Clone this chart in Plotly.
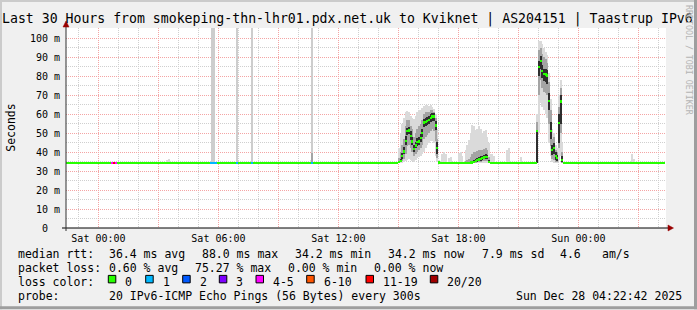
import pandas as pd
import plotly.graph_objects as go

# ---------------- data ----------------
BASELINE_MS = 34.2                      # median rtt when nothing happens
GRAPH_START = "2025-12-26 22:22:42"
GRAPH_END = "2025-12-28 04:22:42"
FIRST_STEP = "2025-12-26 22:25"
LAST_STEP = "2025-12-28 04:20"

# Event 1: Saturday afternoon (5-minute steps starting at ev1_start)
ev1_start = "2025-12-27 15:05"
ev1_median = [34.8, 35.2, 37.8, 40.4, 46.0, 51.0, 51.5, 48.5, 45.7, 41.8,
              43.5, 45.4, 45.7, 47.5, 50.1, 55.7, 56.0, 56.6, 57.1, 58.0,
              58.8, 58.8, 54.1, 42.2, 34.6]
ev1_lo = [34.2, 34.3, 34.5, 35.0, 35.5, 36.0, 36.5, 36.0, 35.5, 35.0,
          36.0, 37.0, 37.5, 38.0, 39.0, 40.0, 42.0, 44.0, 45.0, 46.0,
          46.0, 45.0, 38.0, 35.0, 34.2]
ev1_hi = [42.0, 50.0, 55.0, 58.0, 61.0, 61.5, 61.0, 59.0, 58.0, 57.5,
          59.0, 61.0, 62.0, 62.5, 63.5, 64.5, 65.0, 65.0, 64.5, 65.0,
          64.0, 63.0, 60.0, 52.0, 36.0]
ev1_mid_lo = [34.3, 34.6, 35.5, 36.5, 39.0, 43.0, 44.0, 42.0, 40.0, 38.0,
              39.0, 40.0, 41.0, 42.0, 44.0, 47.0, 48.0, 49.0, 50.0, 51.0,
              52.0, 51.0, 46.0, 37.0, 34.3]
ev1_mid_hi = [37.0, 40.0, 44.0, 47.0, 54.0, 57.0, 57.0, 54.0, 52.0, 48.0,
              50.0, 52.0, 54.0, 55.0, 57.0, 60.0, 61.0, 61.0, 61.0, 62.0,
              62.0, 61.0, 58.0, 47.0, 35.0]
ev1_core_lo = [34.5, 34.8, 36.5, 39.0, 44.0, 49.0, 49.5, 46.5, 44.0, 40.0,
               42.0, 43.5, 44.0, 45.5, 48.0, 53.5, 54.0, 54.5, 55.0, 56.0,
               56.5, 56.5, 51.5, 39.0, 34.3]
ev1_core_hi = [35.5, 36.5, 39.5, 42.5, 48.5, 53.0, 53.5, 51.0, 48.0, 44.0,
               45.5, 47.5, 48.0, 49.5, 52.0, 57.5, 58.0, 58.5, 59.0, 60.0,
               60.5, 60.5, 56.5, 45.5, 35.0]

# Event 1b: small bump Saturday evening
ev1b_start = "2025-12-27 18:25"
ev1b_median = [34.3, 34.3, 34.4, 34.5, 34.6, 35.0, 35.3, 35.7, 36.2, 36.5,
               36.9, 37.2, 37.6, 37.5, 35.0, 34.3]
ev1b_lo = [34.2, 34.2, 34.2, 34.2, 34.2, 34.2, 34.2, 34.2, 34.2, 34.2,
           34.2, 34.2, 34.2, 34.2, 34.2, 34.2]
ev1b_hi = [41.0, 44.0, 46.6, 50.0, 54.5, 54.0, 51.8, 52.0, 53.6, 52.0,
           50.0, 51.0, 51.8, 48.0, 45.0, 39.0]
ev1b_mid_lo = [34.2, 34.2, 34.2, 34.3, 34.3, 34.4, 34.5, 34.6, 34.8, 35.0,
               35.2, 35.4, 35.5, 35.5, 34.5, 34.2]
ev1b_mid_hi = [35.5, 36.0, 36.5, 37.5, 39.0, 40.0, 40.0, 40.5, 41.0, 41.0,
               41.0, 41.5, 42.0, 41.0, 37.5, 34.8]
ev1b_core_lo = [34.2, 34.2, 34.2, 34.3, 34.3, 34.5, 34.8, 35.0, 35.4, 35.6,
                36.0, 36.2, 36.6, 36.5, 34.6, 34.2]
ev1b_core_hi = [34.6, 34.7, 34.9, 35.1, 35.4, 36.0, 36.4, 36.9, 37.4, 37.8,
                38.2, 38.6, 39.0, 38.6, 35.8, 34.5]

# Event 2: late Saturday evening
ev2_start = "2025-12-27 22:00"
ev2_median = [51.0, 84.8, 88.0, 83.0, 81.3, 81.0, 80.4, 67.1, 51.0, 41.3,
              42.2, 38.0, 36.9, 55.4, 66.7, 36.0, 34.3]
ev2_lo = [34.3, 50.0, 66.0, 64.0, 62.0, 60.0, 58.0, 45.0, 38.0, 35.0,
          34.5, 34.5, 34.3, 36.0, 38.0, 34.3, 34.2]
ev2_hi = [60.0, 98.5, 98.5, 97.0, 95.0, 93.0, 91.0, 82.0, 68.0, 52.0,
          50.0, 44.0, 42.0, 70.0, 78.0, 45.0, 34.6]
ev2_mid_lo = [34.5, 70.0, 78.0, 74.0, 72.0, 71.0, 70.0, 55.0, 43.0, 36.5,
              36.0, 35.0, 34.8, 42.0, 50.0, 34.5, 34.2]
ev2_mid_hi = [56.0, 94.0, 95.0, 92.0, 90.0, 89.0, 87.0, 77.0, 62.0, 47.0,
              48.0, 41.0, 40.0, 64.0, 74.0, 40.0, 34.5]
ev2_core_lo = [34.5, 80.0, 84.0, 79.0, 77.5, 77.0, 76.0, 62.0, 47.0, 38.5,
               39.0, 36.0, 35.5, 45.0, 55.0, 35.0, 34.2]
ev2_core_hi = [51.5, 88.0, 90.5, 86.0, 84.0, 84.0, 83.5, 71.0, 56.0, 44.0,
               45.0, 40.0, 38.5, 60.0, 70.0, 38.0, 34.4]

# isolated small smoke bumps (top of smoke, ms)
bump_times = ["2025-12-27 03:30", "2025-12-27 03:35", "2025-12-27 10:40",
              "2025-12-27 17:15", "2025-12-27 17:20", "2025-12-27 17:25",
              "2025-12-27 17:35", "2025-12-27 17:40", "2025-12-27 18:05",
              "2025-12-27 18:10", "2025-12-27 18:15", "2025-12-27 19:45",
              "2025-12-27 19:50", "2025-12-27 20:30", "2025-12-27 20:35",
              "2025-12-27 21:10", "2025-12-28 02:45", "2025-12-28 02:50"]
bump_hi = [35.7, 36.6, 35.9, 39.0, 40.0, 39.0, 37.0, 37.5, 39.6, 40.0,
           38.0, 39.0, 38.0, 41.0, 42.0, 37.3, 39.2, 36.5]

# single very slow pings (smoke runs off the top of the chart)
spike_times = ["2025-12-27 05:45", "2025-12-27 05:50", "2025-12-27 07:00",
               "2025-12-27 07:45", "2025-12-27 10:45"]
spike_hi = [160.0, 160.0, 160.0, 160.0, 160.0]
spike_mid_hi = [35.0, 35.0, 35.0, 35.0, 39.7]

# packet loss per step (other steps: 0 lost)
loss_times = ["2025-12-27 00:45", "2025-12-27 00:50", "2025-12-27 00:55",
              "2025-12-27 05:40", "2025-12-27 05:45", "2025-12-27 05:50",
              "2025-12-27 05:55", "2025-12-27 07:00", "2025-12-27 07:45",
              "2025-12-27 10:45"]
loss_cat = ["4-5", "11-19", "4-5", "1", "1", "1", "1", "1", "1", "1"]

loss_labels = ["0", "1", "2", "3", "4-5", "6-10", "11-19", "20/20"]
loss_colors = ["#26ff00", "#00b8ff", "#0059ff", "#7e00ff", "#ff00ff",
               "#ff5500", "#ff0000", "#a00000"]

x_tick_vals = ["2025-12-27 00:00", "2025-12-27 03:00", "2025-12-27 06:00",
               "2025-12-27 09:00", "2025-12-27 12:00", "2025-12-27 15:00",
               "2025-12-27 18:00", "2025-12-27 21:00", "2025-12-28 00:00",
               "2025-12-28 03:00"]
x_tick_text = ["Sat 00:00", "", "Sat 06:00", "", "Sat 12:00", "",
               "Sat 18:00", "", "Sun 00:00", ""]
y_tick_vals = [0, 10, 20, 30, 40, 50, 60, 70, 80, 90, 100]
y_tick_text = ["0\u00a0\u00a0", "10 m", "20 m", "30 m", "40 m", "50 m",
               "60 m", "70 m", "80 m", "90 m", "100 m"]
Y_MAX = 105.5

title_text = ("Last 30 Hours from smokeping-thn-lhr01.pdx.net.uk to Kviknet"
              " | AS204151 | Taastrup IPv6")
stats_rtt = ["median rtt:", "36.4 ms avg", "88.0 ms max", "34.2 ms min",
             "34.2 ms now", "7.9 ms sd", "4.6", "am/s"]
stats_loss = ["packet loss:", "0.60 % avg", "75.27 % max", "0.00 % min",
              "0.00 % now"]
probe_text = ["probe:", "20 IPv6-ICMP Echo Pings (56 Bytes) every 300s",
              "Sun Dec 28 04:22:42 2025"]

# ---------------- build per-step series ----------------
STEP = pd.Timedelta(minutes=5)
steps = pd.date_range(FIRST_STEP, LAST_STEP, freq="5min")
median = {t: BASELINE_MS for t in steps}
loss = {t: "0" for t in steps}
outer, mid, core, tall = [], [], [], []

for start, med, lo, hi, mlo, mhi, clo, chi in [
        (ev1_start, ev1_median, ev1_lo, ev1_hi, ev1_mid_lo, ev1_mid_hi, ev1_core_lo, ev1_core_hi),
        (ev1b_start, ev1b_median, ev1b_lo, ev1b_hi, ev1b_mid_lo, ev1b_mid_hi, ev1b_core_lo, ev1b_core_hi),
        (ev2_start, ev2_median, ev2_lo, ev2_hi, ev2_mid_lo, ev2_mid_hi, ev2_core_lo, ev2_core_hi)]:
    t0 = pd.Timestamp(start)
    for i in range(len(med)):
        t = t0 + i * STEP
        median[t] = med[i]
        outer.append((t, lo[i], hi[i]))
        mid.append((t, mlo[i], mhi[i]))
        core.append((t, clo[i], chi[i]))

for t, h in zip(bump_times, bump_hi):
    outer.append((pd.Timestamp(t), BASELINE_MS, h))
for t, h, m in zip(spike_times, spike_hi, spike_mid_hi):
    tall.append((pd.Timestamp(t), BASELINE_MS, h))
    mid.append((pd.Timestamp(t), BASELINE_MS, m))
for t, c in zip(loss_times, loss_cat):
    loss[pd.Timestamp(t)] = c

STEP_MS = 300000
fig = go.Figure()


def band(rows, color):
    fig.add_trace(go.Bar(
        x=[r[0] for r in rows], base=[r[1] for r in rows],
        y=[r[2] - r[1] for r in rows], width=STEP_MS, offset=-STEP_MS,
        marker=dict(color=color, line=dict(width=0)), hoverinfo="skip"))


band(tall, "#cdcdcd")
band(outer, "#dadada")
band(mid, "#a4a4a4")
band(core, "#2e2e2e")

SW = 0.6  # half thickness of the median mark (ms)
for lab, col in zip(loss_labels, loss_colors):
    ts = [t for t in steps if loss[t] == lab]
    if not ts:
        continue
    fig.add_trace(go.Bar(
        x=ts, base=[median[t] - SW for t in ts], y=[2 * SW] * len(ts),
        width=STEP_MS, offset=-STEP_MS,
        marker=dict(color=col, line=dict(width=0)), hoverinfo="skip"))

# ---------------- layout ----------------
W, H = 697, 310
PL, PR, PT, PB = 66, 666, 28, 228.5
FONT = "DejaVu Sans Mono"
MAJOR = "#f4a4a4"
MINOR = "#cfcfcf"


def fx(x):
    return (x - PL) / (PR - PL)


def fy(y):
    return (PB - y) / (PB - PT)


fig.update_layout(
    width=W, height=H,
    margin=dict(l=PL, r=W - PR, t=PT, b=H - PB, pad=0, autoexpand=False),
    paper_bgcolor="#f0f0f0", plot_bgcolor="#ffffff",
    barmode="overlay", bargap=0, showlegend=False,
    font=dict(family=FONT, size=10, color="#000000"),
)
fig.update_xaxes(
    type="date", range=[GRAPH_START, GRAPH_END], fixedrange=True,
    tickmode="array", tickvals=x_tick_vals, ticktext=x_tick_text,
    showgrid=True, gridcolor=MAJOR, griddash="1px,1px", gridwidth=1,
    minor=dict(dtick=3600000, tick0="2025-12-27 00:00", showgrid=True,
               gridcolor=MINOR, griddash="1px,1px", gridwidth=1),
    zeroline=False, showline=False, ticks="", ticklabelstandoff=3,
    tickfont=dict(family=FONT, size=10, color="#000000"), automargin=False,
)
fig.update_yaxes(
    range=[0, Y_MAX], fixedrange=True,
    tickmode="array", tickvals=y_tick_vals, ticktext=y_tick_text,
    showgrid=True, gridcolor=MAJOR, griddash="1px,1px", gridwidth=1,
    minor=dict(dtick=5, tick0=0, showgrid=True, gridcolor=MINOR,
               griddash="1px,1px", gridwidth=1),
    zeroline=False, showline=False, ticks="", ticklabelstandoff=5,
    tickfont=dict(family=FONT, size=10, color="#000000"), automargin=False,
)

shapes = []
# frame shading
shapes.append(dict(type="rect", xref="paper", yref="paper", x0=fx(0), x1=fx(W),
                   y0=fy(0), y1=fy(2), fillcolor="#cbcbcb", line=dict(width=0), layer="above"))
shapes.append(dict(type="rect", xref="paper", yref="paper", x0=fx(0), x1=fx(2),
                   y0=fy(0), y1=fy(H), fillcolor="#cbcbcb", line=dict(width=0), layer="above"))
shapes.append(dict(type="rect", xref="paper", yref="paper", x0=fx(0), x1=fx(W),
                   y0=fy(H - 3), y1=fy(H), fillcolor="#9e9e9e", line=dict(width=0), layer="above"))
shapes.append(dict(type="rect", xref="paper", yref="paper", x0=fx(W - 3), x1=fx(W),
                   y0=fy(0), y1=fy(H), fillcolor="#9e9e9e", line=dict(width=0), layer="above"))
# axes with arrows
shapes.append(dict(type="line", xref="paper", yref="paper", x0=fx(62), x1=fx(670),
                   y0=fy(PB), y1=fy(PB), line=dict(color="#000000", width=1), layer="above"))
shapes.append(dict(type="line", xref="paper", yref="paper", x0=fx(PL), x1=fx(PL),
                   y0=fy(PB + 3), y1=fy(24), line=dict(color="#303030", width=1), layer="above"))
shapes.append(dict(type="path", xref="paper", yref="paper",
                   path=f"M {fx(668)},{fy(PB - 3)} L {fx(673.5)},{fy(PB)} L {fx(668)},{fy(PB + 3)} Z",
                   fillcolor="#990000", line=dict(color="#990000", width=0.5), layer="above"))
shapes.append(dict(type="path", xref="paper", yref="paper",
                   path=f"M {fx(PL - 3)},{fy(27)} L {fx(PL)},{fy(21)} L {fx(PL + 3)},{fy(27)} Z",
                   fillcolor="#990000", line=dict(color="#990000", width=0.5), layer="above"))

annotations = []


def text(s, x, y, size=11.5, anchor="left", color="#000000", angle=0):
    annotations.append(dict(text=s, xref="paper", yref="paper", x=fx(x), y=fy(y),
                            xanchor=anchor, yanchor="middle", showarrow=False,
                            textangle=angle,
                            font=dict(family=FONT, size=size, color=color)))


text(title_text, 347, 19, size=13.2, anchor="center")
text("Seconds", 11, 128, size=11.5, anchor="center", angle=-90)
text("RRDTOOL / TOBI OETIKER", 689, 60, size=8.3, anchor="center",
     color="#b4b4b4", angle=90)

row_y = [255.0, 269.0, 282.7, 296.8]
for s, x in zip(stats_rtt, [16, 107.3, 200, 293.3, 386.3, 479.7, 557.7, 600.3]):
    text(s, x, row_y[0])
for s, x in zip(stats_loss, [16, 107.3, 193.3, 286, 372]):
    text(s, x, row_y[1])
text("loss color:", 16, row_y[2])
box_x = [108.3, 145.7, 182.7, 219.3, 256.0, 306.7, 366.0, 430.3]
for lab, col, bx in zip(loss_labels, loss_colors, box_x):
    shapes.append(dict(type="rect", xref="paper", yref="paper",
                       x0=fx(bx), x1=fx(bx + 7.5), y0=fy(276), y1=fy(283.5),
                       fillcolor=col, line=dict(color="#000000", width=1), layer="above"))
    text(lab, bx + 15, row_y[2])
for s, x in zip(probe_text, [16, 107.3, 513.7]):
    text(s, x, row_y[3])

fig.update_layout(shapes=shapes, annotations=annotations)
fig.write_html("out.html", config={"displayModeBar": False})
